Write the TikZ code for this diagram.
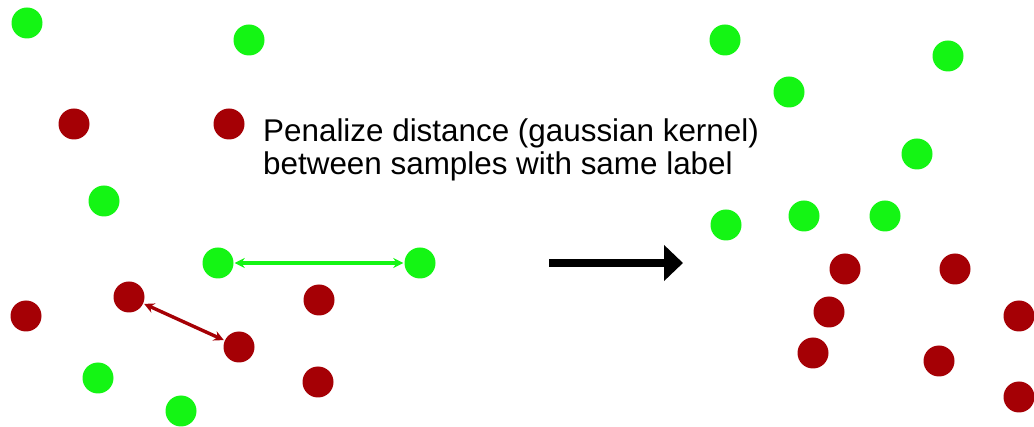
\documentclass[tikz,border=0pt]{standalone}
\usepackage{fontspec}
\setmainfont{Liberation Sans}
\usetikzlibrary{arrows.meta}
\definecolor{dotgreen}{RGB}{20,245,20}
\definecolor{dotred}{RGB}{165,0,5}
\begin{document}
\begin{tikzpicture}[x=1pt,y=-1pt,
  gdot/.style={circle,fill=dotgreen,draw=none,minimum size=31pt,inner sep=0pt},
  rdot/.style={circle,fill=dotred,draw=none,minimum size=31pt,inner sep=0pt},
  pairarrow/.style={line width=3.4pt,{Stealth[length=10pt,width=10pt]}-{Stealth[length=10pt,width=10pt]},shorten <=1pt,shorten >=1pt},
  bigarrow/.style={line width=8.5pt,-{Triangle[length=19pt,width=35pt]}}]
\useasboundingbox (0,0) rectangle (1034,427);
% left green
\node[gdot] (lg1) at (27,23) {};
\node[gdot] (lg2) at (249,40) {};
\node[gdot] (lg3) at (104,201) {};
\node[gdot] (lg4) at (218,263) {};
\node[gdot] (lg5) at (420,263) {};
\node[gdot] (lg6) at (98,378) {};
\node[gdot] (lg7) at (181,411) {};
% left red
\node[rdot] (lr1) at (74,124) {};
\node[rdot] (lr2) at (229,124) {};
\node[rdot] (lr3) at (129,297) {};
\node[rdot] (lr4) at (26,316) {};
\node[rdot] (lr5) at (239,347) {};
\node[rdot] (lr6) at (319,300) {};
\node[rdot] (lr7) at (318,382) {};
% right green
\node[gdot] (rg1) at (725,40) {};
\node[gdot] (rg2) at (948,56) {};
\node[gdot] (rg3) at (789,92) {};
\node[gdot] (rg4) at (917,154) {};
\node[gdot] (rg5) at (726,225) {};
\node[gdot] (rg6) at (804,216) {};
\node[gdot] (rg7) at (885,216) {};
% right red
\node[rdot] (rr1) at (845,269) {};
\node[rdot] (rr2) at (955,269) {};
\node[rdot] (rr3) at (829,312) {};
\node[rdot] (rr4) at (1019,316) {};
\node[rdot] (rr5) at (813,353) {};
\node[rdot] (rr6) at (939,361) {};
\node[rdot] (rr7) at (1019,397) {};
% pair arrows
\draw[pairarrow,dotgreen] (lg4) -- (lg5);
\draw[pairarrow,dotred] (lr3) -- (lr5);
% text
\node[anchor=base west,inner sep=0pt,align=left,font=\fontsize{31.4}{33.5}\selectfont] (label) at (263,175)
  {Penalize distance (gaussian kernel)\\between samples with same label};
% big arrow
\coordinate (as) at (549,263);
\coordinate (ae) at (683,263);
\draw[bigarrow] (as) -- (ae);
\end{tikzpicture}
\end{document}
